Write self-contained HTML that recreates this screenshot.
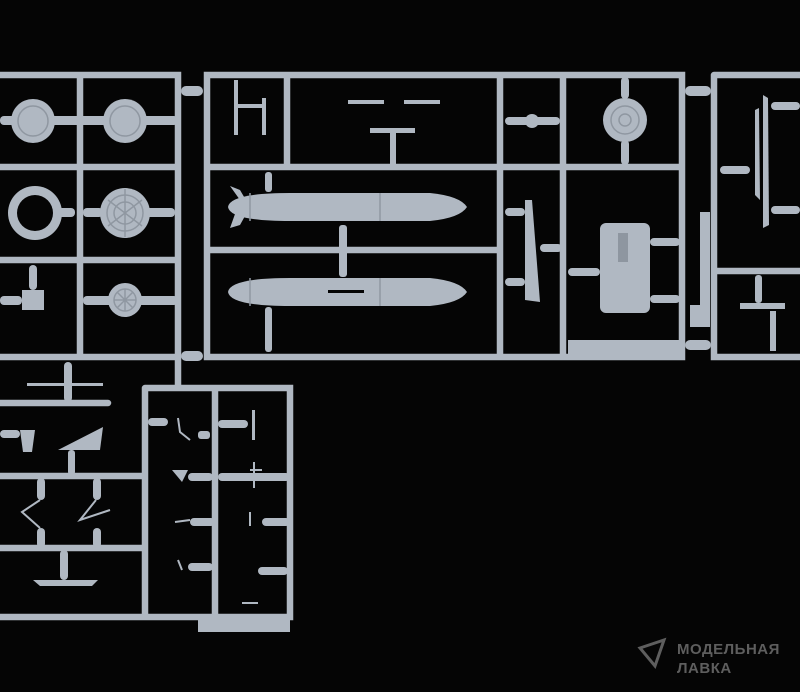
<!DOCTYPE html>
<html><head><meta charset="utf-8"><style>
html,body{margin:0;padding:0;background:#050505;}
svg{display:block}
</style></head><body>
<svg width="800" height="692" viewBox="0 0 800 692" xmlns="http://www.w3.org/2000/svg">
<rect width="800" height="692" fill="#050505"/>
<g stroke="#b0b8c2" stroke-width="6.5" stroke-linecap="round" fill="none">
 <path d="M0 75H178V357M0 167H176M0 260H176M0 357H176M80 75V357"/>
 <path d="M207 75H682V357H207ZM287 75V167M207 167H682M207 250H500M500 75V357M563 75V357"/>
 <path d="M714 75H800M714 75V357H800M714 271H800"/>
 <path d="M145 388H290V617H0M145 388V617M215 388V617M0 476H145M0 548H145M0 403H108M178 357V388"/>
</g>
<g fill="#b0b8c2">
 <rect x="181" y="86" width="22" height="10" rx="5"/><rect x="181" y="351" width="22" height="10" rx="5"/>
 <rect x="685" y="86" width="26" height="10" rx="5"/><rect x="685" y="340" width="26" height="10" rx="5"/>
 <circle cx="33" cy="121" r="22"/><circle cx="125" cy="121" r="22"/>
 <rect x="0" y="116" width="178" height="9" rx="4"/>
 <circle cx="35" cy="213" r="27"/><circle cx="35" cy="213" r="18" fill="#050505"/>
 <circle cx="125" cy="213" r="25"/>
 <rect x="55" y="208" width="20" height="9" rx="4"/><rect x="145" y="208" width="30" height="9" rx="4"/><rect x="83" y="208" width="20" height="9" rx="4"/>
 <circle cx="125" cy="300" r="17"/><rect x="83" y="296" width="95" height="9" rx="4"/>
 <rect x="0" y="296" width="22" height="9" rx="4"/><rect x="22" y="290" width="22" height="20"/><rect x="29" y="265" width="8" height="25" rx="4"/>
 <path d="M228 207 Q230 193 290 193 H430 Q460 196 467 207 Q460 218 430 221 H290 Q230 221 228 207Z"/>
 <path d="M230 186L240 200L235 214L230 228L240 225L250 207L240 190Z"/>
 <path d="M228 292 Q230 278 290 278 H430 Q460 281 467 292 Q460 303 430 306 H290 Q230 306 228 292Z"/>
 <rect x="265" y="307" width="7" height="45" rx="3"/><rect x="265" y="172" width="7" height="20" rx="3"/>
 <rect x="339" y="225" width="8" height="52" rx="3"/>
 <rect x="234" y="80" width="4" height="55"/><rect x="262" y="98" width="4" height="37"/><rect x="236" y="104" width="28" height="4"/>
 <rect x="370" y="128" width="45" height="5"/><rect x="390" y="128" width="6" height="36"/>
 <rect x="348" y="100" width="36" height="4"/><rect x="404" y="100" width="36" height="4"/>
 <circle cx="532" cy="121" r="7"/><rect x="505" y="117" width="55" height="8" rx="4"/>
 <circle cx="625" cy="120" r="22"/><rect x="621" y="140" width="8" height="25" rx="4"/><rect x="621" y="77" width="8" height="22" rx="4"/>
 <path d="M525 200L532 200L540 302L525 300Z"/><rect x="505" y="208" width="20" height="8" rx="4"/><rect x="505" y="278" width="20" height="8" rx="4"/><rect x="540" y="244" width="22" height="8" rx="4"/>
 <rect x="600" y="223" width="50" height="90" rx="6"/><rect x="568" y="268" width="32" height="8" rx="4"/><rect x="650" y="238" width="30" height="8" rx="4"/><rect x="650" y="295" width="30" height="8" rx="4"/>
 <rect x="700" y="212" width="10" height="110"/><rect x="690" y="305" width="20" height="22"/>
 <rect x="568" y="340" width="112" height="16"/>
 <path d="M763 95L768 98L769 225L763 228Z"/><path d="M755 110L759 108L760 200L755 195Z"/>
 <rect x="771" y="102" width="29" height="8" rx="4"/><rect x="771" y="206" width="29" height="8" rx="4"/><rect x="720" y="166" width="30" height="8" rx="4"/>
 <rect x="740" y="303" width="45" height="6"/><rect x="755" y="275" width="7" height="28" rx="3"/><rect x="770" y="311" width="6" height="40"/>
 <rect x="27" y="383" width="76" height="3"/><rect x="64" y="362" width="8" height="40" rx="4"/>
 <path d="M20 430H35L32 452H23Z"/><rect x="0" y="430" width="20" height="8" rx="4"/>
 <path d="M58 450L103 427L100 450Z"/><rect x="68" y="450" width="7" height="25" rx="3"/>
 <rect x="37" y="478" width="8" height="22" rx="4"/><rect x="37" y="528" width="8" height="20" rx="4"/>
 <rect x="93" y="478" width="8" height="22" rx="4"/><rect x="93" y="528" width="8" height="20" rx="4"/>
 <rect x="60" y="550" width="8" height="30" rx="4"/><path d="M33 580H98L92 586H40Z"/>
 <rect x="148" y="418" width="20" height="8" rx="4"/><rect x="198" y="431" width="12" height="8" rx="3"/>
 <rect x="218" y="420" width="30" height="8" rx="4"/><rect x="252" y="410" width="3" height="30"/>
 <path d="M172 470H188L182 482Z"/><rect x="188" y="473" width="25" height="8" rx="4"/>
 <rect x="218" y="473" width="72" height="8" rx="4"/>
 <rect x="190" y="518" width="25" height="8" rx="4"/><rect x="262" y="518" width="28" height="8" rx="4"/>
 <rect x="188" y="563" width="25" height="8" rx="4"/><rect x="258" y="567" width="30" height="8" rx="4"/>
 <rect x="198" y="618" width="92" height="14"/>
</g>
<g stroke="#8f97a1" stroke-width="1.5" fill="none">
 <circle cx="33" cy="121" r="15"/><circle cx="125" cy="121" r="15"/><circle cx="625" cy="120" r="14"/><circle cx="625" cy="120" r="6"/>
 <circle cx="125" cy="213" r="18"/><circle cx="125" cy="213" r="11"/><path d="M108 200L142 226M142 200L108 226M125 189V237"/>
 <circle cx="125" cy="300" r="11"/><path d="M114 300H136M125 289V311M117 292L133 308M133 292L117 308"/>
 <path d="M250 193V221M380 193V221M250 278V306M380 278V306"/>
</g>
<g stroke="#b0b8c2" stroke-width="2" fill="none">
 <path d="M40 500L22 512L40 528M96 500L80 520L110 510M178 418L180 432L190 440M175 522L190 520M178 560L182 570M250 470L262 470M254 462V488M250 512V526M242 603L258 603"/>
</g>
<g fill="#050505">
 <rect x="328" y="290" width="36" height="3"/>
 <path d="M618 233H628V262H618Z" fill="#8e96a0"/>
</g>
<g fill="#5e5e5e" font-family="Liberation Sans, DejaVu Sans, sans-serif" font-weight="bold" font-size="15">
 <text x="677" y="654" letter-spacing="0.5">МОДЕЛЬНАЯ</text>
 <text x="677" y="673" letter-spacing="0.5">ЛАВКА</text>
</g>
<path d="M640 648L664 640L655 666Z" fill="none" stroke="#5e5e5e" stroke-width="3"/>
</svg>
</body></html>
